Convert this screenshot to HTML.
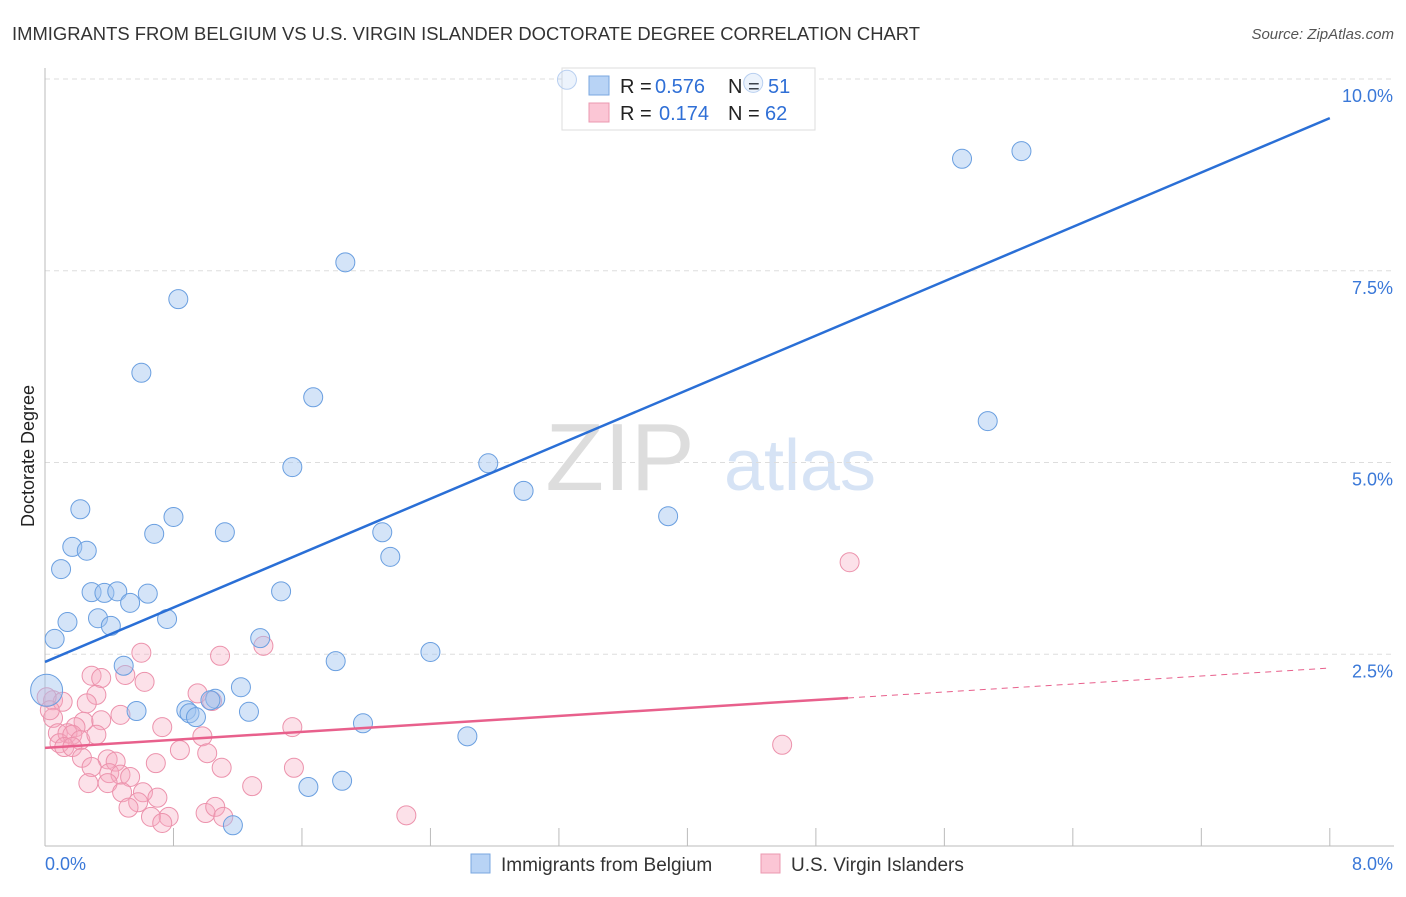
<!DOCTYPE html>
<html><head><meta charset="utf-8"><style>
body{margin:0;background:#fff;font-family:"Liberation Sans",sans-serif;}
svg text{font-family:"Liberation Sans",sans-serif;}
</style></head><body>
<svg id="chart" width="1406" height="892">
<text x="12" y="40" font-size="18" fill="#333" textLength="908" lengthAdjust="spacingAndGlyphs">IMMIGRANTS FROM BELGIUM VS U.S. VIRGIN ISLANDER DOCTORATE DEGREE CORRELATION CHART</text>
<text x="1394" y="39" font-size="15" fill="#555" font-style="italic" text-anchor="end">Source: ZipAtlas.com</text>
<text x="620" y="490" font-size="96" fill="#ddd" font-family="Liberation Serif" text-anchor="middle">ZIP</text>
<text x="800" y="490" font-size="72" fill="#d6e3f5" text-anchor="middle">atlas</text>
<text x="34" y="456" font-size="18" fill="#222" text-anchor="middle" transform="rotate(-90 34 456)">Doctorate Degree</text>
<g id="grid"></g><g id="axes"></g>
<g>
<rect x="562" y="68" width="253" height="62" fill="#fff" stroke="#ddd"/>
<rect x="589" y="76" width="20" height="19" fill="#b8d3f5" stroke="#7aa7e0"/>
<rect x="589" y="103" width="20" height="19" fill="#fbc6d5" stroke="#eb98b0"/>
<text y="93" font-size="20" fill="#222"><tspan x="620">R =</tspan><tspan x="655" fill="#2f6fd6">0.576</tspan><tspan x="728">N =</tspan><tspan x="768" fill="#2f6fd6">51</tspan></text>
<text y="120" font-size="20" fill="#222"><tspan x="620">R =</tspan><tspan x="659" fill="#2f6fd6">0.174</tspan><tspan x="728">N =</tspan><tspan x="765" fill="#2f6fd6">62</tspan></text>
</g>
<g id="pts"></g><g id="lines"></g>
<g>
<rect x="471" y="854" width="19" height="19" fill="#b8d3f5" stroke="#7aa7e0"/>
<text x="501" y="871" font-size="19" fill="#333">Immigrants from Belgium</text>
<rect x="761" y="854" width="19" height="19" fill="#fbc6d5" stroke="#eb98b0"/>
<text x="791" y="871" font-size="19" fill="#333">U.S. Virgin Islanders</text>
</g>
</svg>
<script>
const blueX=[3.25,4.41,5.71,6.08,1.87,0.83,0.60,1.67,5.87,1.54,2.76,2.98,3.88,0.22,0.80,1.12,0.68,2.10,0.17,0.26,2.15,0.10,0.29,0.37,0.45,1.47,0.64,0.53,0.33,0.14,0.41,0.76,0.06,1.34,0.49,2.40,1.81,0.01,1.22,0.57,0.88,0.90,0.94,1.06,1.03,1.27,1.98,2.63,1.64,1.85,1.17];
const blueY=[9.99,9.95,8.96,9.06,7.61,7.13,6.17,5.85,5.54,4.94,4.99,4.63,4.30,4.39,4.29,4.09,4.07,4.09,3.90,3.85,3.77,3.61,3.31,3.30,3.32,3.32,3.29,3.17,2.97,2.92,2.87,2.96,2.70,2.71,2.35,2.53,2.41,2.03,2.07,1.76,1.77,1.73,1.68,1.92,1.90,1.75,1.60,1.43,0.77,0.85,0.27];
const pinkX=[0.60,1.09,0.29,0.35,0.50,0.62,0.32,0.95,1.04,1.36,0.05,0.11,0.26,0.05,0.47,0.24,0.35,0.19,0.73,1.54,0.08,0.14,0.09,0.17,0.22,0.32,0.98,0.12,0.17,0.84,1.01,0.23,0.39,0.44,0.69,0.29,0.40,0.47,0.53,1.10,1.55,0.27,0.39,1.29,0.48,0.61,0.70,0.58,0.52,0.66,0.77,0.73,1.00,1.06,1.11,5.01,4.59,2.25,0.01,0.03];
const pinkY=[2.52,2.48,2.22,2.19,2.23,2.14,1.97,1.99,1.89,2.61,1.90,1.88,1.86,1.67,1.71,1.62,1.64,1.55,1.55,1.55,1.47,1.47,1.34,1.45,1.38,1.45,1.43,1.29,1.29,1.25,1.21,1.15,1.13,1.10,1.08,1.03,0.95,0.93,0.90,1.02,1.02,0.82,0.82,0.78,0.70,0.70,0.63,0.57,0.50,0.38,0.38,0.30,0.43,0.51,0.38,3.70,1.32,0.40,1.94,1.77];
const yTicks=[2.5,5.0,7.5,10.0];
const yTickLabels=["2.5%","5.0%","7.5%","10.0%"];
const blueTrend=[2.40,9.49];
const pinkTrend=[1.28,2.32];
const pinkSolidEnd=5.0;
const NS="http://www.w3.org/2000/svg";
const sx=v=>45+v*160.6, sy=v=>846-v*76.7;
function mk(tag,attrs,parent){const e=document.createElementNS(NS,tag);for(const k in attrs)e.setAttribute(k,attrs[k]);document.getElementById(parent).appendChild(e);return e;}
yTicks.forEach((t,i)=>{
 const g=mk('line',{x1:45,x2:1394,y1:sy(t),y2:sy(t),stroke:'#ddd','stroke-dasharray':'5,4'},'grid');
 
 
 const tx=mk('text',{x:1393,y:sy(t)+23,'font-size':18,fill:'#3a78d8','text-anchor':'end'},'grid');
 tx.textContent=yTickLabels[i];
 
 
});
mk('line',{x1:45,x2:45,y1:68,y2:846,stroke:'#bbb'},'axes');
mk('line',{x1:45,x2:1394,y1:846,y2:846,stroke:'#bbb'},'axes');
for(let i=1;i<=10;i++){const l=mk('line',{x1:sx(i*0.8),x2:sx(i*0.8),y1:828,y2:846,stroke:'#bbb'},'axes');
 
 }
const x0=mk('text',{x:45,y:870,'font-size':18,fill:'#3a78d8'},'axes');x0.textContent='0.0%';


const x1=mk('text',{x:1393,y:870,'font-size':18,fill:'#3a78d8','text-anchor':'end'},'axes');x1.textContent='8.0%';


pinkX.forEach((x,i)=>{const c=mk('circle',{cx:sx(x),cy:sy(pinkY[i]),r:9.5,fill:'rgba(246,170,192,0.35)',stroke:'#ec92ac','stroke-width':1},'pts');
 
 });
blueX.forEach((x,i)=>{const c=mk('circle',{cx:sx(x),cy:sy(blueY[i]),r:(i==37?16:9.5),fill:(i<2?'rgba(160,196,240,0.2)':'rgba(160,196,240,0.45)'),stroke:(i<2?'#b8cff0':'#6a9fe0'),'stroke-width':1},'pts');
 
 });
const bl=mk('line',{x1:sx(0),y1:sy(blueTrend[0]),x2:sx(8),y2:sy(blueTrend[1]),stroke:'#2a6fd6','stroke-width':2.5},'lines');


const pm=pinkTrend[0]+(pinkTrend[1]-pinkTrend[0])*pinkSolidEnd/8;
const pl=mk('line',{x1:sx(0),y1:sy(pinkTrend[0]),x2:sx(pinkSolidEnd),y2:sy(pm),stroke:'#e8608c','stroke-width':2.5},'lines');


const pd=mk('line',{x1:sx(pinkSolidEnd),y1:sy(pm),x2:sx(8),y2:sy(pinkTrend[1]),stroke:'#e8608c','stroke-width':1,'stroke-dasharray':'6,5'},'lines');


</script>
</body></html>
